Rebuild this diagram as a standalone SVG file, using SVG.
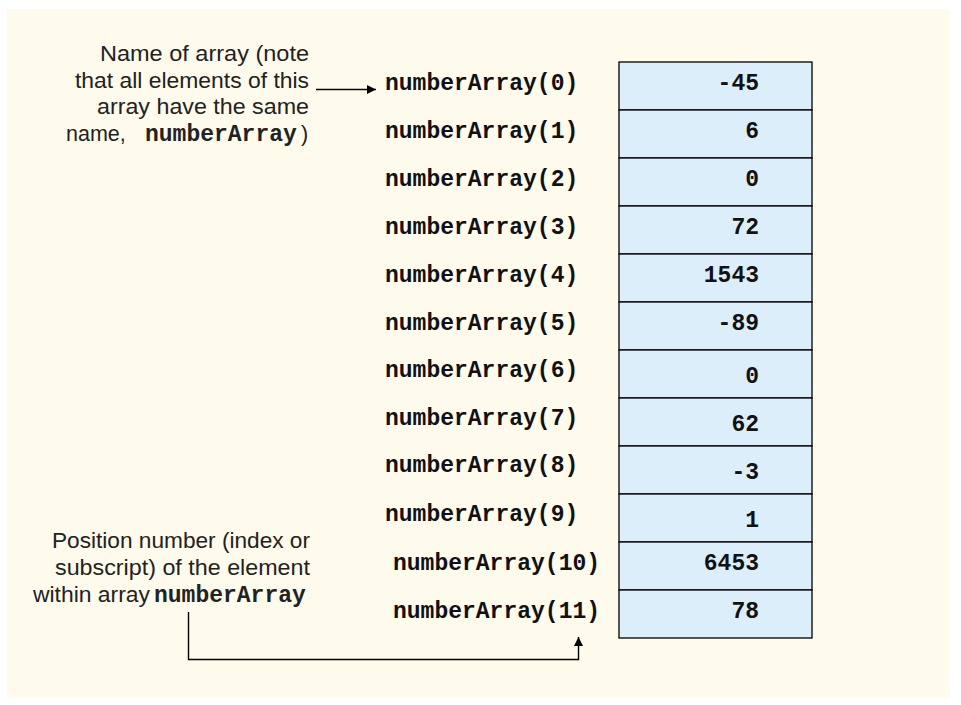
<svg xmlns="http://www.w3.org/2000/svg" width="961" height="705" viewBox="0 0 961 705">
<style>
.bg{fill:#FEFAEC}
.cell{fill:#DCEEFA;stroke:#000;stroke-width:1.3}
.mono{font-family:"Liberation Mono","Courier New",monospace;font-weight:bold;font-size:23px;fill:#111}
.notes{font-family:"Liberation Sans",Arial,sans-serif;font-size:21.5px;fill:#222}
.notemono{font-family:"Liberation Mono","Courier New",monospace;font-weight:bold;font-size:23px}
.val{text-anchor:end}
.conn{fill:none;stroke:#000;stroke-width:1.4}
</style>
<defs>
<marker id="ah" viewBox="0 0 10 10" refX="10" refY="5" markerWidth="16" markerHeight="9" markerUnits="userSpaceOnUse" orient="auto">
<path d="M0,0 L10,5 L0,10 Z" fill="#000"/>
</marker>
</defs>
<rect class="bg" x="7" y="9" width="943" height="688"/>
<g id="array">
<g id="cell0"><rect class="cell" x="619" y="62" width="193" height="48"/><text class="mono" x="385" y="90">numberArray(0)</text><text class="mono val" x="759" y="90">-45</text></g>
<g id="cell1"><rect class="cell" x="619" y="110" width="193" height="48"/><text class="mono" x="385" y="137.5">numberArray(1)</text><text class="mono val" x="759" y="137.5">6</text></g>
<g id="cell2"><rect class="cell" x="619" y="158" width="193" height="48"/><text class="mono" x="385" y="185.5">numberArray(2)</text><text class="mono val" x="759" y="185.5">0</text></g>
<g id="cell3"><rect class="cell" x="619" y="206" width="193" height="48"/><text class="mono" x="385" y="233.5">numberArray(3)</text><text class="mono val" x="759" y="233.5">72</text></g>
<g id="cell4"><rect class="cell" x="619" y="254" width="193" height="48"/><text class="mono" x="385" y="281.5">numberArray(4)</text><text class="mono val" x="759" y="281.5">1543</text></g>
<g id="cell5"><rect class="cell" x="619" y="302" width="193" height="48"/><text class="mono" x="385" y="329.5">numberArray(5)</text><text class="mono val" x="759" y="329.5">-89</text></g>
<g id="cell6"><rect class="cell" x="619" y="350" width="193" height="48"/><text class="mono" x="385" y="377">numberArray(6)</text><text class="mono val" x="759" y="382.5">0</text></g>
<g id="cell7"><rect class="cell" x="619" y="398" width="193" height="48"/><text class="mono" x="385" y="424.5">numberArray(7)</text><text class="mono val" x="759" y="430.5">62</text></g>
<g id="cell8"><rect class="cell" x="619" y="446" width="193" height="48"/><text class="mono" x="385" y="472">numberArray(8)</text><text class="mono val" x="759" y="478.5">-3</text></g>
<g id="cell9"><rect class="cell" x="619" y="494" width="193" height="48"/><text class="mono" x="385" y="521">numberArray(9)</text><text class="mono val" x="759" y="527">1</text></g>
<g id="cell10"><rect class="cell" x="619" y="542" width="193" height="48"/><text class="mono" x="393" y="569.5">numberArray(10)</text><text class="mono val" x="759" y="569.5">6453</text></g>
<g id="cell11"><rect class="cell" x="619" y="590" width="193" height="48"/><text class="mono" x="393" y="617.5">numberArray(11)</text><text class="mono val" x="759" y="617.5">78</text></g>
</g>
<g id="note-name">
<text class="notes" x="100" y="61" textLength="209" lengthAdjust="spacingAndGlyphs">Name of array (note</text>
<text class="notes" x="75" y="88" textLength="234" lengthAdjust="spacingAndGlyphs">that all elements of this</text>
<text class="notes" x="97" y="114" textLength="212" lengthAdjust="spacingAndGlyphs">array have the same</text>
<text class="notes" x="66" y="140.5">name,<tspan class="notemono" x="145">numberArray</tspan><tspan x="301">)</tspan></text>
</g>
<g id="note-position">
<text class="notes" x="52" y="548" textLength="258" lengthAdjust="spacingAndGlyphs">Position number (index or</text>
<text class="notes" x="55" y="575" textLength="255" lengthAdjust="spacingAndGlyphs">subscript) of the element</text>
<text class="notes" x="33" y="601.5"><tspan textLength="117" lengthAdjust="spacingAndGlyphs">within array</tspan><tspan class="notemono" x="154">numberArray</tspan></text>
</g>
<g id="connectors">
<path class="conn" d="M316,89.5 L376,89.5" marker-end="url(#ah)"/>
<path class="conn" d="M188.5,612 L188.5,659.5 L578.5,659.5 L578.5,637" marker-end="url(#ah)"/>
</g>
</svg>
